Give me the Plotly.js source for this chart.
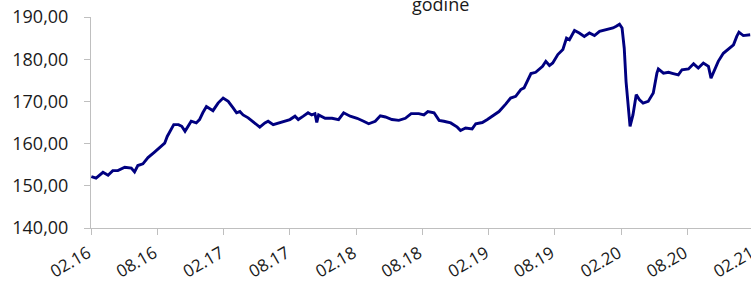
<!DOCTYPE html>
<html>
<head>
<meta charset="utf-8">
<script src="https://cdn.plot.ly/plotly-3.0.1.min.js"></script>
<style>
html, body { margin: 0; padding: 0; overflow: hidden; background: #fff; }
#chart { width: 760px; height: 282px; }
</style>
</head>
<body>
<div id="chart"></div>
<script>
const dates = [
"2016-02-02","2016-02-15","2016-03-05","2016-03-19","2016-04-01","2016-04-15","2016-05-04","2016-05-22","2016-05-31","2016-06-09",
"2016-06-23","2016-07-07","2016-07-25","2016-08-08","2016-08-22","2016-08-29","2016-09-07","2016-09-16","2016-09-29","2016-10-08",
"2016-10-17","2016-10-25","2016-11-03","2016-11-17","2016-11-26","2016-12-05","2016-12-15","2017-01-02","2017-01-16","2017-01-30",
"2017-02-13","2017-02-27","2017-03-08","2017-03-17","2017-03-26","2017-04-09","2017-04-27","2017-05-11","2017-05-25","2017-06-03",
"2017-06-17","2017-07-01","2017-07-19","2017-08-02","2017-08-16","2017-08-25","2017-09-08","2017-09-21","2017-10-01","2017-10-10",
"2017-10-15","2017-10-20","2017-11-07","2017-11-26","2017-12-14","2017-12-28","2018-01-15","2018-02-03","2018-02-21","2018-03-07",
"2018-03-25","2018-04-08","2018-04-22","2018-05-10","2018-05-29","2018-06-16","2018-07-02","2018-07-23","2018-08-06","2018-08-17",
"2018-09-03","2018-09-17","2018-09-30","2018-10-19","2018-11-06","2018-11-15","2018-11-29","2018-12-17","2018-12-27","2019-01-14",
"2019-01-28","2019-02-10","2019-03-01","2019-03-20","2019-04-02","2019-04-16","2019-04-30","2019-05-09","2019-05-18","2019-05-28",
"2019-06-10","2019-06-19","2019-06-29","2019-07-08","2019-07-18","2019-07-27","2019-08-10","2019-08-24","2019-09-03","2019-09-11",
"2019-09-25","2019-10-08","2019-10-22","2019-11-05","2019-11-19","2019-12-03","2019-12-21","2020-01-09","2020-01-18","2020-01-27",
"2020-02-03","2020-02-07","2020-02-09","2020-02-14","2020-02-19","2020-02-25","2020-03-04","2020-03-13","2020-03-22","2020-04-01",
"2020-04-15","2020-04-29","2020-05-09","2020-05-13","2020-05-27","2020-06-10","2020-06-23","2020-07-07","2020-07-17","2020-08-04",
"2020-08-18","2020-08-31","2020-09-14","2020-09-28","2020-10-05","2020-10-16","2020-10-25","2020-11-08","2020-11-22","2020-12-06",
"2020-12-15","2020-12-21","2021-01-02","2021-01-21"
];
const values = [
152.2,151.8,153.2,152.5,153.6,153.6,154.4,154.2,153.3,154.8,
155.2,156.7,158.0,159.0,160.1,161.7,163.3,164.5,164.5,164.1,
162.9,164.1,165.3,164.9,165.7,167.3,168.8,167.8,169.6,170.8,
170.0,168.4,167.3,167.6,166.8,166.1,164.9,163.9,164.9,165.3,
164.5,164.9,165.3,165.7,166.5,165.7,166.5,167.3,166.8,167.1,
165.0,166.8,166.0,166.0,165.7,167.3,166.5,166.0,165.3,164.7,
165.3,166.6,166.3,165.7,165.5,166.0,167.1,167.1,166.8,167.6,
167.3,165.5,165.3,164.9,163.9,163.1,163.7,163.5,164.7,165.0,
165.7,166.5,167.6,169.4,170.8,171.2,172.8,173.2,174.7,176.6,
176.9,177.5,178.3,179.5,178.5,179.1,181.1,182.3,185.0,184.6,
186.8,186.2,185.4,186.2,185.6,186.6,187.0,187.4,187.8,188.3,
187.4,184.2,182.6,174.7,169.2,164.1,166.8,171.6,170.4,169.6,
170.0,172.0,176.7,177.7,176.7,176.9,176.6,176.3,177.5,177.7,
178.9,177.9,179.1,178.3,175.5,177.9,179.5,181.4,182.3,183.4,
185.4,186.4,185.6,185.8
];
const tickVals = ["2016-02-01","2016-08-01","2017-02-01","2017-08-01","2018-02-01","2018-08-01","2019-02-01","2019-08-01","2020-02-01","2020-08-01","2021-02-01"];
const tickText = ["02.16","08.16","02.17","08.17","02.18","08.18","02.19","08.19","02.20","08.20","02.21"];
const yTickVals = [140,150,160,170,180,190];
const yTickText = ["140,00","150,00","160,00","170,00","180,00","190,00"];
const titleText = "godine";

const trace = {
  x: dates, y: values, type: "scatter", mode: "lines",
  line: {color: "#000080", width: 2.9}, hoverinfo: "skip"
};
const layout = {
  width: 760, height: 282,
  margin: {l: 91, r: 0, t: 17, b: 54, pad: 0},
  paper_bgcolor: "#fff", plot_bgcolor: "#fff",
  showlegend: false,
  font: {family: "Open Sans, sans-serif", color: "#1a1a1a"},
  xaxis: {
    type: "date", range: ["2016-02-01", "2021-02-17"],
    tickmode: "array", tickvals: tickVals, ticktext: tickText,
    tickangle: -30, ticks: "outside", ticklen: 6, tickcolor: "#bfbfbf", tickwidth: 1,
    showline: true, linecolor: "#bfbfbf", linewidth: 1,
    showgrid: false, zeroline: false,
    ticklabeloverflow: "allow", ticklabelstandoff: 2, ticklabelshift: -3,
    tickfont: {size: 17, color: "#1a1a1a"}
  },
  yaxis: {
    range: [140, 190], tickmode: "array", tickvals: yTickVals, ticktext: yTickText,
    ticks: "outside", ticklen: 6, tickcolor: "#bfbfbf", tickwidth: 1,
    showline: true, linecolor: "#bfbfbf", linewidth: 1,
    showgrid: false, zeroline: false, ticklabelstandoff: 12,
    tickfont: {size: 18, color: "#1a1a1a"}
  },
  annotations: [{
    text: titleText, xref: "paper", yref: "paper", x: 0.5217, y: 0.995,
    xanchor: "center", yanchor: "bottom", showarrow: false,
    font: {size: 18, color: "#1a1a1a", family: "Open Sans, sans-serif"}
  }]
};
Plotly.newPlot("chart", [trace], layout, {staticPlot: true, displayModeBar: false});
</script>
</body>
</html>
